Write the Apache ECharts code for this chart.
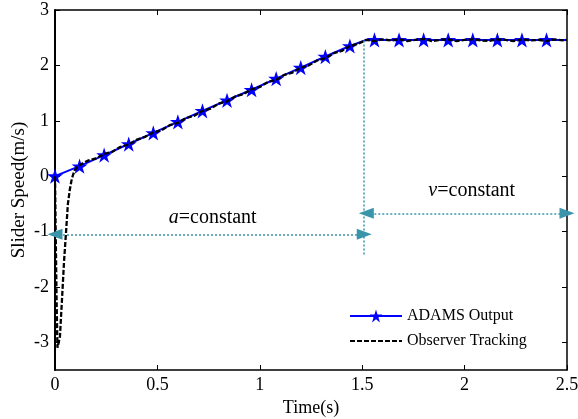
<!DOCTYPE html>
<html><head><meta charset="utf-8">
<script src="https://cdn.jsdelivr.net/npm/echarts@6/dist/echarts.min.js"></script>
<style>html,body{margin:0;padding:0;background:#fff}#c{width:578px;height:419px}</style>
</head><body><div id="c"></div>
<script>
const xTicks = [0, 0.5, 1, 1.5, 2, 2.5];
const yTicks = [-3, -2, -1, 0, 1, 2, 3];
const adamsT = [0, 0.12, 0.24, 0.36, 0.48, 0.6, 0.72, 0.84, 0.96, 1.08, 1.2, 1.32, 1.44, 1.52, 1.56, 1.68, 1.8, 1.92, 2.04, 2.16, 2.28, 2.4, 2.5];
const adamsV = [0, 0.18, 0.38, 0.58, 0.78, 0.98, 1.18, 1.37, 1.56, 1.76, 1.96, 2.16, 2.35, 2.46, 2.46, 2.46, 2.46, 2.46, 2.46, 2.46, 2.46, 2.46, 2.46];
const adamsMarked = [1,1,1,1,1,1,1,1,1,1,1,1,1,0,1,1,1,1,1,1,1,1,0];
const obsT = [0, 0.004, 0.008, 0.012, 0.018, 0.024, 0.03, 0.036, 0.044, 0.054, 0.063, 0.072, 0.082, 0.095, 0.11, 0.13, 0.16, 0.2, 0.24, 0.28, 0.32, 0.36, 0.4, 0.44, 0.48, 0.52, 0.56, 0.6, 0.64, 0.68, 0.72, 0.76, 0.8, 0.84, 0.88, 0.92, 0.96, 1.0, 1.04, 1.08, 1.12, 1.16, 1.2, 1.24, 1.28, 1.32, 1.36, 1.4, 1.44, 1.48, 1.52, 1.56, 1.6, 1.64, 1.68, 1.72, 1.76, 1.8, 1.84, 1.88, 1.92, 1.96, 2.0, 2.04, 2.08, 2.12, 2.16, 2.2, 2.24, 2.28, 2.32, 2.36, 2.4, 2.44, 2.48, 2.5];
const obsV = [0, -1.2, -2.3, -3.1, -3.08, -2.9, -2.5, -2.1, -1.55, -1.0, -0.5, -0.25, -0.05, 0.1, 0.17, 0.22, 0.28, 0.32, 0.4, 0.44, 0.53, 0.57, 0.66, 0.71, 0.79, 0.83, 0.92, 0.96, 1.05, 1.09, 1.18, 1.22, 1.31, 1.35, 1.44, 1.48, 1.57, 1.61, 1.7, 1.74, 1.83, 1.87, 1.96, 2.0, 2.09, 2.13, 2.22, 2.26, 2.35, 2.39, 2.46, 2.44, 2.47, 2.45, 2.47, 2.44, 2.46, 2.48, 2.44, 2.46, 2.47, 2.44, 2.46, 2.47, 2.45, 2.44, 2.47, 2.46, 2.44, 2.47, 2.45, 2.46, 2.44, 2.47, 2.45, 2.46];
const aArrow = {y: -1.05, x0: 0, x1: 1.51};
const vArrow = {y: -0.67, x0: 1.52, x1: 2.5};
const divider = {x: 1.51, y0: 2.45, y1: -1.42};
const aLabel = [0.77, -0.76];
const vLabel = [2.035, -0.27];

const FONT = '"Liberation Serif","Times New Roman",serif';
const TEAL = '#3a95aa';
const STAR = 'path://M50,0 L61.2,34.5 L97.6,34.5 L68.2,55.9 L79.4,90.5 L50,69.1 L20.6,90.5 L31.8,55.9 L2.4,34.5 L38.8,34.5 Z';

const chart = echarts.init(document.getElementById('c'), null, {renderer: 'canvas'});
const adamsData = adamsT.map((t, i) => adamsMarked[i] ? [t, adamsV[i]] : {value: [t, adamsV[i]], symbol: 'none'});
const obsData = obsT.map((t, i) => [t, obsV[i]]);

const arrowLine = (a) => [{coord: [a.x0, a.y]}, {coord: [a.x1, a.y]}];

chart.setOption({
  animation: false,
  backgroundColor: '#fff',
  grid: {left: 55, right: 11, top: 10, bottom: 49, containLabel: false, outerBoundsMode: 'none'},
  legend: {
    orient: 'vertical', left: 344, top: 303, itemWidth: 52, itemHeight: 16, itemGap: 9,
    textStyle: {fontFamily: FONT, fontSize: 16, color: '#000'},
    data: [{name: 'ADAMS Output'}, {name: 'Observer Tracking', itemStyle: {opacity: 0}}]
  },
  xAxis: [{
    type: 'value', min: 0, max: 2.5, interval: 0.5,
    name: 'Time(s)', nameLocation: 'middle', nameGap: 23,
    nameTextStyle: {fontFamily: FONT, fontSize: 18, color: '#000'},
    axisLine: {onZero: false, lineStyle: {color: '#000', width: 1.5}},
    axisTick: {inside: true, length: 5, lineStyle: {color: '#000'}},
    axisLabel: {fontFamily: FONT, fontSize: 18, color: '#000', margin: 6, formatter: v => String(v)},
    splitLine: {show: false}
  }, {
    type: 'value', min: 0, max: 2.5, interval: 0.5, position: 'top',
    axisLine: {onZero: false, lineStyle: {color: '#000', width: 1.5}},
    axisTick: {inside: true, length: 5, lineStyle: {color: '#000'}},
    axisLabel: {show: false}, splitLine: {show: false}
  }],
  yAxis: [{
    type: 'value', min: -3.5, max: 3,
    name: 'Slider Speed(m/s)', nameLocation: 'middle', nameGap: 26, nameMoveOverlap: false,
    nameTextStyle: {fontFamily: FONT, fontSize: 19, color: '#000'},
    axisLine: {onZero: false, lineStyle: {color: '#000', width: 2}},
    axisTick: {inside: true, length: 5, lineStyle: {color: '#000'}, customValues: yTicks},
    axisLabel: {fontFamily: FONT, fontSize: 18, color: '#000', margin: 6, customValues: yTicks},
    splitLine: {show: false}
  }, {
    type: 'value', min: -3.5, max: 3, position: 'right',
    axisLine: {onZero: false, lineStyle: {color: '#000', width: 1.5}},
    axisTick: {inside: true, length: 5, lineStyle: {color: '#000'}, customValues: yTicks},
    axisLabel: {show: false, customValues: yTicks}, splitLine: {show: false}
  }],
  series: [{
    name: 'ADAMS Output', type: 'line', data: adamsData,
    symbol: STAR, symbolSize: 16, symbolKeepAspect: true,
    lineStyle: {color: '#0000ff', width: 2},
    itemStyle: {color: '#0000ff', borderColor: '#0000ff', borderWidth: 0},
    z: 2,
    markLine: {
      silent: true, animation: false,
      symbol: ['triangle', 'triangle'], symbolSize: [11, 15],
      label: {show: false},
      lineStyle: {color: TEAL, type: [2, 2], width: 1.5},
      data: [arrowLine(aArrow), arrowLine(vArrow),
        [{coord: [divider.x, divider.y0], symbol: 'none'}, {coord: [divider.x, divider.y1], symbol: 'none'}]]
    },
    markPoint: {
      silent: true, animation: false, symbol: 'circle', symbolSize: 0,
      label: {
        show: true, position: 'inside', color: '#000', fontFamily: FONT, fontSize: 20,
        rich: {i: {fontStyle: 'italic', fontFamily: FONT, fontSize: 20, color: '#000'}}
      },
      data: [
        {coord: aLabel, label: {formatter: '{i|a}=constant'}},
        {coord: vLabel, label: {formatter: '{i|v}=constant'}}
      ]
    }
  }, {
    name: 'Observer Tracking', type: 'line', data: obsData,
    symbol: 'none', showSymbol: false,
    lineStyle: {color: '#000', width: 2.3, type: [5, 2]},
    itemStyle: {color: '#000'},
    z: 3
  }]
});
</script></body></html>
